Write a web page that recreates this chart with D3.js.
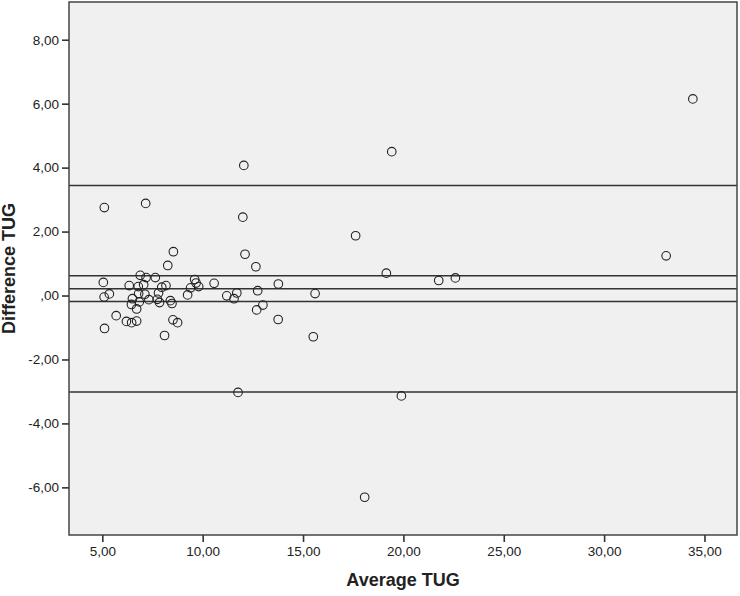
<!DOCTYPE html>
<html>
<head>
<meta charset="utf-8">
<script src="https://cdn.jsdelivr.net/npm/d3@7"></script>
<style>
  body { margin: 0; background: #fff; }
  text { font-family: "Liberation Sans", Arial, sans-serif; fill: #222; }
</style>
</head>
<body>
<div id="graph"></div>
<script>
// Bland-Altman: mean of the two TUG measurements vs their difference
const averageTUG = [
  34.42, 12.05, 19.42, 5.10, 7.16, 12.00, 17.62, 8.54, 12.11, 33.09,
  8.26, 12.65, 19.15, 21.76, 22.59, 6.89, 7.18, 7.64, 9.60, 5.05,
  6.34, 6.79, 7.06, 8.17, 7.96, 10.57, 13.77, 9.67, 9.40, 9.80,
  7.80, 6.81, 5.35, 5.09, 11.70, 12.74, 11.20, 11.56, 9.25, 7.12,
  6.50, 6.84, 7.32, 7.74, 7.85, 8.39, 8.47, 6.45, 6.71, 13.00,
  12.69, 5.69, 6.20, 6.46, 6.71, 8.52, 8.75, 13.76, 5.11, 8.10,
  15.51, 11.76, 19.90, 18.07, 15.60
];
const differenceTUG = [
  6.15, 4.07, 4.50, 2.75, 2.88, 2.45, 1.87, 1.37, 1.29, 1.24,
  0.94, 0.90, 0.70, 0.47, 0.55, 0.63, 0.56, 0.56, 0.50, 0.41,
  0.31, 0.28, 0.34, 0.31, 0.26, 0.38, 0.36, 0.39, 0.24, 0.28,
  0.08, 0.06, 0.05, -0.05, 0.08, 0.15, -0.01, -0.10, 0.02, 0.04,
  -0.10, -0.20, -0.13, -0.12, -0.22, -0.16, -0.25, -0.28, -0.42, -0.30,
  -0.45, -0.63, -0.81, -0.85, -0.80, -0.76, -0.85, -0.75, -1.03, -1.25,
  -1.29, -3.03, -3.14, -6.31, 0.06
];
// upper LoA, upper CI of mean, mean difference, lower CI of mean, lower LoA
const refLines = [3.44, 0.62, 0.21, -0.19, -3.02];
const xTicks = [5, 10, 15, 20, 25, 30, 35];
const yTicks = [-6, -4, -2, 0, 2, 4, 6, 8];

const W = 740, H = 596;
const margin = { top: 2, right: 3, bottom: 61, left: 69 };
const w = W - margin.left - margin.right;
const h = H - margin.top - margin.bottom;

const data = averageTUG.map((a, i) => ({ avg: a, diff: differenceTUG[i] }));
// SPSS style: comma decimals, zero written as ",00"
const fmt = (v) => (v === 0 ? ",00" : d3.format(".2f")(v).replace(".", ",").replace("−", "-"));

const xScale = d3.scaleLinear().domain([3.34, 36.62]).range([0, w]);
const yScale = d3.scaleLinear().domain([-7.49, 9.18]).range([h, 0]);

const svg = d3.select("#graph")
  .append("svg")
  .attr("width", W)
  .attr("height", H)
  .append("g")
  .attr("transform", "translate(" + margin.left + "," + margin.top + ")");

svg.append("rect")
  .attr("width", w)
  .attr("height", h)
  .attr("fill", "#f0f0f0");

svg.selectAll("line.ref")
  .data(refLines)
  .enter()
  .append("line")
  .attr("class", "ref")
  .attr("x1", 0)
  .attr("x2", w)
  .attr("y1", (d) => yScale(d))
  .attr("y2", (d) => yScale(d))
  .attr("stroke", "#333")
  .attr("stroke-width", 1.5);

svg.selectAll("circle")
  .data(data)
  .enter()
  .append("circle")
  .attr("cx", (d) => xScale(d.avg))
  .attr("cy", (d) => yScale(d.diff))
  .attr("r", 4.3)
  .attr("fill", "none")
  .attr("stroke", "#222")
  .attr("stroke-width", 1.1);

// frame
svg.append("rect")
  .attr("width", w)
  .attr("height", h)
  .attr("fill", "none")
  .attr("stroke", "#444")
  .attr("stroke-width", 1.5);

const xAxis = d3.axisBottom(xScale).tickValues(xTicks).tickFormat(fmt).tickSize(7).tickPadding(4);
const yAxis = d3.axisLeft(yScale).tickValues(yTicks).tickFormat(fmt).tickSize(7).tickPadding(3);

const gx = svg.append("g")
  .attr("transform", "translate(0," + h + ")")
  .call(xAxis);
const gy = svg.append("g").call(yAxis);

[gx, gy].forEach((g) => {
  g.select(".domain").remove();
  g.selectAll(".tick line").attr("stroke", "#333").attr("stroke-width", 1.6);
  g.selectAll(".tick text").style("font-size", "13.5px").attr("fill", "#333");
});

svg.append("text")
  .attr("x", w / 2)
  .attr("y", h + 51)
  .attr("text-anchor", "middle")
  .style("font-size", "18px")
  .style("font-weight", "bold")
  .text("Average TUG");

svg.append("text")
  .attr("transform", "translate(" + (15 - margin.left) + "," + h / 2 + ") rotate(-90)")
  .attr("text-anchor", "middle")
  .style("font-size", "18px")
  .style("font-weight", "bold")
  .text("Difference TUG");
</script>
</body>
</html>
